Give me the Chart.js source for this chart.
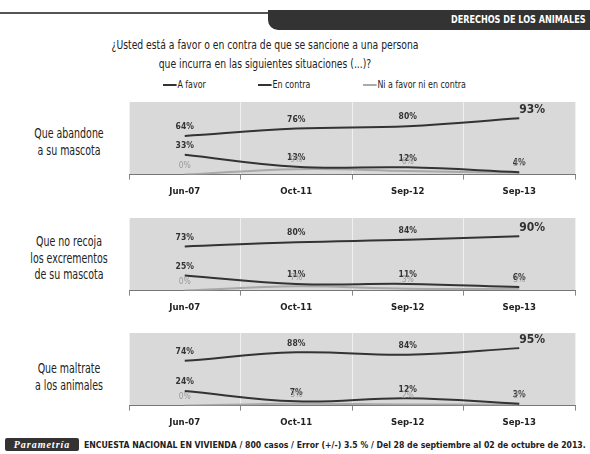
<!DOCTYPE html>
<html>
<head>
<meta charset="utf-8">
<script src="https://cdn.jsdelivr.net/npm/chart.js@4.4.0/dist/chart.umd.min.js"></script>
<style>
    html, body { margin: 0; padding: 0; background: #fff; }
    #page { position: relative; width: 590px; height: 454px; overflow: hidden; background: #fff;
        font-family: "DejaVu Sans Condensed", "Liberation Sans", sans-serif; color: #222; }
    .abs { position: absolute; }
    .topline { left: 0; top: 12px; width: 275px; height: 2px; background: #555; }
    .tab { left: 268px; top: 10px; width: 322px; height: 20px; background: #333; border-bottom-left-radius: 10px; }
    .tab span { position: absolute; right: 4px; top: 4px; color: #fff; font-weight: bold; font-size: 10px;
        transform: scaleX(0.9); transform-origin: right center; white-space: nowrap; }
    .title { left: 25px; width: 480px; text-align: center; font-size: 13px; transform: scaleX(0.79); transform-origin: center; }
    .legend { top: 78px; font-size: 11px; white-space: nowrap; transform: scaleX(0.8); transform-origin: left center; }
    .legend i { display: inline-block; width: 17px; height: 2px; vertical-align: middle; margin-right: 1px; }
    .row { left: 0; width: 138px; text-align: center; font-size: 14px; line-height: 16.5px; color: #222;
        transform: scaleX(0.75); transform-origin: center; }
    .panel { left: 100px; width: 490px; height: 108px; }
    .logo { left: 5px; top: 438px; width: 74px; height: 13px; background: #333; border-radius: 2px;
        color: #fff; font-style: italic; font-weight: bold; font-size: 10px; text-align: center; line-height: 13px;
        font-family: "Liberation Serif", serif; letter-spacing: 1px; }
    .footer { left: 84px; top: 438px; font-size: 9.3px; font-weight: bold; color: #222; white-space: nowrap; line-height: 13px;
        transform: scaleX(0.93); transform-origin: left center; }
</style>
</head>
<body>
<div id="page">
    <div class="abs topline"></div>
    <div class="abs tab"><span>DERECHOS DE LOS ANIMALES</span></div>
    <div class="abs title" style="top:37px;">¿Usted está a favor o en contra de que se sancione a una persona</div>
    <div class="abs title" style="top:56px;">que incurra en las siguientes situaciones (...)?</div>
    <div class="abs legend" style="left:163px;"><i style="background:#333"></i>A favor</div>
    <div class="abs legend" style="left:258px;"><i style="background:#333"></i>En contra</div>
    <div class="abs legend" style="left:363px;"><i style="background:#aaa"></i>Ni a favor ni en contra</div>

    <div class="abs row" style="top:125px;">Que abandone<br>a su mascota</div>
    <div class="abs row" style="top:233px;">Que no recoja<br>los excrementos<br>de su mascota</div>
    <div class="abs row" style="top:360px;">Que maltrate<br>a los animales</div>

    <div class="abs panel" style="top:95px;"><canvas id="chart1"></canvas></div>
    <div class="abs panel" style="top:211px;"><canvas id="chart2"></canvas></div>
    <div class="abs panel" style="top:326px;"><canvas id="chart3"></canvas></div>

    <div class="abs logo">Parametría</div>
    <div class="abs footer">ENCUESTA NACIONAL EN VIVIENDA / 800 casos / Error (+/-) 3.5 % / Del 28 de septiembre al 02 de octubre de 2013.</div>
</div>
<script>
// Data
const categories = ['Jun-07', 'Oct-11', 'Sep-12', 'Sep-13'];
const seriesNames = ['A favor', 'En contra', 'Ni a favor ni en contra'];

// Que abandone a su mascota
const abandonaFavor = [64, 76, 80, 93];
const abandonaContra = [33, 13, 12, 4];
const abandonaNi = [0, 9, 6, 3];

// Que no recoja los excrementos de su mascota
const excrementosFavor = [73, 80, 84, 90];
const excrementosContra = [25, 11, 11, 6];
const excrementosNi = [0, 7, 3, 3];

// Que maltrate a los animales
const maltrateFavor = [74, 88, 84, 95];
const maltrateContra = [24, 7, 12, 3];
const maltrateNi = [0, 3, 2, 2];

const seriesColors = ['#333333', '#333333', '#a8a8a8'];
const labelColors = ['#333333', '#333333', '#9a9a9a'];
const chartFont = '"DejaVu Sans Condensed", "Liberation Sans", sans-serif';

// Grey plot area
const plotBackground = {
    id: 'plotBackground',
    beforeDraw(chart) {
        const { ctx, chartArea: a } = chart;
        ctx.save();
        ctx.fillStyle = '#d9d9d9';
        ctx.fillRect(a.left, a.top, a.right - a.left, a.bottom - a.top);
        ctx.restore();
    }
};

// Value labels drawn above the points
const valueLabels = {
    id: 'valueLabels',
    afterDatasetsDraw(chart) {
        const { ctx } = chart;
        ctx.save();
        ctx.textAlign = 'center';
        ctx.textBaseline = 'middle';
        chart.data.datasets.forEach((ds, di) => {
            const meta = chart.getDatasetMeta(di);
            meta.data.forEach((pt, i) => {
                const last = di === 0 && i === ds.data.length - 1;
                ctx.fillStyle = labelColors[di];
                if (last) {
                    ctx.font = 'bold 12px ' + chartFont;
                    ctx.fillText(ds.data[i] + '%', pt.x + 13, pt.y - 8);
                } else {
                    ctx.font = (di === 2 ? '' : 'bold ') + '8.5px ' + chartFont;
                    ctx.fillText(ds.data[i] + '%', pt.x, pt.y - 9);
                }
            });
        });
        ctx.restore();
    }
};

function buildChart(id, favor, contra, ni) {
    const values = [favor, contra, ni];
    return new Chart(document.getElementById(id), {
        type: 'line',
        data: {
            labels: categories,
            datasets: values.map((v, i) => ({
                label: seriesNames[i],
                data: v,
                borderColor: seriesColors[i],
                borderWidth: 2,
                pointRadius: 0,
                tension: 0.4,
                fill: false
            }))
        },
        options: {
            responsive: true,
            maintainAspectRatio: false,
            animation: false,
            layout: { padding: { left: 29, right: 15, top: 7, bottom: 0 } },
            plugins: {
                legend: { display: false },
                tooltip: { enabled: false }
            },
            scales: {
                x: {
                    offset: true,
                    grid: {
                        offset: true,
                        color: '#f0f0f0',
                        tickColor: '#888',
                        tickLength: 5
                    },
                    border: { color: '#777', width: 1 },
                    ticks: {
                        color: '#222',
                        padding: 6,
                        font: { family: chartFont, size: 9.5, weight: 'bold' }
                    }
                },
                y: {
                    display: false,
                    min: 0,
                    max: 120
                }
            }
        },
        plugins: [plotBackground, valueLabels]
    });
}

buildChart('chart1', abandonaFavor, abandonaContra, abandonaNi);
buildChart('chart2', excrementosFavor, excrementosContra, excrementosNi);
buildChart('chart3', maltrateFavor, maltrateContra, maltrateNi);
</script>
</body>
</html>
